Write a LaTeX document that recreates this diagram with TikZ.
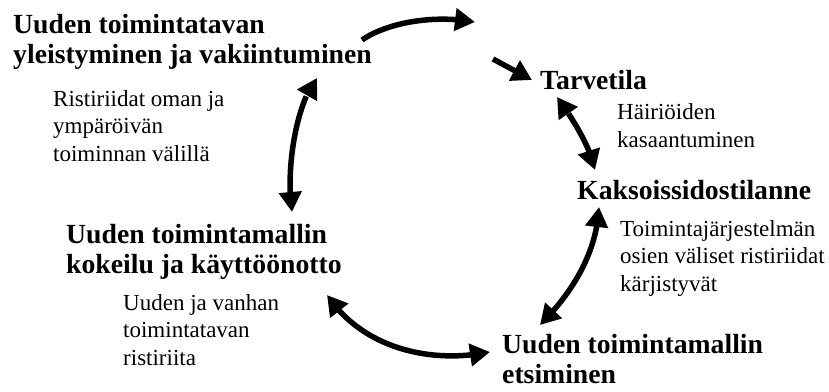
\documentclass[tikz,border=0pt]{standalone}
\usepackage{fontspec}
\setmainfont{Liberation Serif}
\usetikzlibrary{arrows.meta,bending}
\begin{document}
\begin{tikzpicture}[x=1pt,y=-1pt,
  % multi-line nodes are placed by the baseline of their last line
  stage/.style={anchor=base west, inner sep=0pt, align=left,
    font=\fontsize{27.7}{30}\selectfont\bfseries},
  note/.style={anchor=base west, inner sep=0pt, align=left,
    font=\fontsize{23}{27.5}\selectfont},
  flow/.style={line width=5.5pt, -{Triangle[length=20pt,width=22pt]}},
  link/.style={line width=5.5pt,
    {Triangle[length=20pt,width=22pt]}-{Triangle[length=20pt,width=22pt]}}]
\useasboundingbox (0,0) rectangle (829,391);

% stages of the cycle
\node[stage] (yleis) at (13,63) {Uuden toimintatavan\\yleistyminen ja vakiintuminen};
\node[stage] (tarve) at (540,89) {Tarvetila};
\node[stage] (kaksois) at (577,199) {Kaksoissidostilanne};
\node[stage] (etsi) at (502,383) {Uuden toimintamallin\\etsiminen};
\node[stage] (kokeilu) at (66,273) {Uuden toimintamallin\\kokeilu ja käyttöönotto};

% contradictions between the stages
\node[note] (ristiA) at (53,161) {Ristiriidat oman ja\\ympäröivän\\toiminnan välillä};
\node[note] (hairio) at (617,147) {Häiriöiden\\kasaantuminen};
\node[note] (osien) at (620,291) {Toimintajärjestelmän\\osien väliset ristiriidat\\kärjistyvät};
\node[note] (vanha) at (123,365) {Uuden ja vanhan\\toimintatavan\\ristiriita};

% arrow end points
\coordinate (a1s) at (362,40);  \coordinate (a1e) at (475,22);
\coordinate (a2s) at (493,59);  \coordinate (a2e) at (532,80);
\coordinate (a3s) at (557,97);  \coordinate (a3e) at (595,170);
\coordinate (a4s) at (599,207); \coordinate (a4e) at (540,325);
\coordinate (a5s) at (327,295); \coordinate (a5e) at (490,352);
\coordinate (a6s) at (317,78);  \coordinate (a6e) at (292,212);

% arrows
\draw[flow] (a1s) .. controls (385,24) and (430,14) .. (a1e);
\draw[flow] (a2s) -- (a2e);
\draw[link] (a3s) .. controls (570,115) and (590,145) .. (a3e);
\draw[link] (a4s) .. controls (597,250) and (575,290) .. (a4e);
\draw[link] (a5s) .. controls (360,345) and (425,365) .. (a5e);
\draw[link] (a6s) .. controls (298,100) and (285,165) .. (a6e);
\end{tikzpicture}
\end{document}
